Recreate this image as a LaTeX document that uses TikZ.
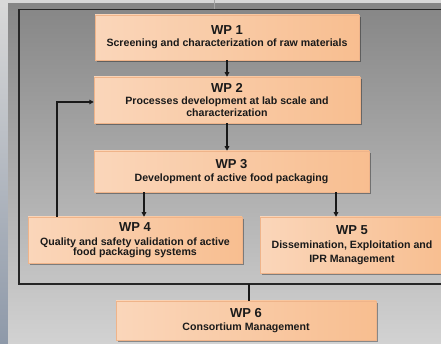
\documentclass[tikz,border=0pt]{standalone}
\usepackage{fontspec}
\setmainfont{Liberation Sans}
\usetikzlibrary{arrows.meta,shadows}

\definecolor{bgtop}{HTML}{868686}
\definecolor{bgmid}{HTML}{A4A4A4}
\definecolor{bgbot}{HTML}{D2D2D2}
\definecolor{stripL}{HTML}{D8D8D8}
\definecolor{stripB}{HTML}{8E99A9}
\definecolor{peachL}{HTML}{FAD6BA}
\definecolor{peachM}{HTML}{FCE2CE}
\definecolor{peachR}{HTML}{F8BE90}
\definecolor{peachEdge}{HTML}{EFB48A}
\definecolor{ink}{HTML}{1A1A1A}

\newcommand{\wptitle}{\fontsize{13}{15}\selectfont\bfseries}
\newcommand{\wpsub}{\fontsize{10.6}{12}\selectfont\bfseries}

\tikzset{
  wpbox/.style={rectangle, draw=peachEdge, line width=0.5pt,
    left color=peachL, middle color=peachM, right color=peachR,
    drop shadow={shadow xshift=1.6pt, shadow yshift=-1.6pt, fill=black, opacity=0.35},
    align=center, inner sep=0pt, text=ink, font=\wpsub},
  flow/.style={line width=1.1pt, draw=black!90, -{Triangle[length=4.5pt,width=4.5pt]}},
  plain/.style={line width=1.1pt, draw=black!90},
  frameline/.style={line width=1.8pt, draw=black!85},
}

\begin{document}
\begin{tikzpicture}[x=1pt,y=1pt]
  \useasboundingbox (0,0) rectangle (441,344);
  \clip (0,0) rectangle (441,344);

  % backdrop
  \fill[stripL] (0,0) rectangle (441,344);
  \fill[top color=stripL, bottom color=stripB] (0,0) rectangle (8,340);
  \fill[top color=bgtop, middle color=bgmid, bottom color=bgbot] (8,0) rectangle (441,340);

  % enclosing frame around WP 1 to WP 5
  \draw[frameline] (19,60) rectangle (470,334.5);
  \coordinate (ftop) at (214,334.5);
  \coordinate (fbot) at (249,60);
  \coordinate (above) at (214,344);
  \draw[line width=1pt, draw=black!35] (above) -- (ftop);

  % work packages
  \node[wpbox, minimum width=264pt, minimum height=45pt] (wp1) at (227,306.5)
    {{\wptitle WP 1}\\[0pt] Screening and characterization of raw materials};
  \node[wpbox, minimum width=266pt, minimum height=46pt] (wp2) at (227,244)
    {{\wptitle WP 2}\\[0pt] Processes development at lab scale and\\ characterization};
  \node[wpbox, minimum width=275pt, minimum height=41pt] (wp3) at (231.5,172.5)
    {{\wptitle WP 3}\\[1pt] Development of active food packaging};
  \node[wpbox, minimum width=214pt, minimum height=46pt] (wp4) at (135,104)
    {{\wptitle WP 4}\\[2pt] Quality and safety validation of active\\[-2pt] food packaging systems};
  \node[wpbox, minimum width=184pt, minimum height=56pt] (wp5) at (352,99)
    {{\wptitle WP 5}\\[2pt] Dissemination, Exploitation and\\[2pt] IPR Management};
  \node[wpbox, minimum width=260pt, minimum height=39pt] (wp6) at (246,23.5)
    {{\wptitle WP 6}\\[1pt] Consortium Management};

  % connectors
  \coordinate (to4) at (144,0);
  \coordinate (to5) at (336,0);
  \coordinate (back) at (57,242);

  \draw[flow] (wp1.south) -- (wp2.north);
  \draw[flow] (wp2.south) -- (wp2.south |- wp3.north);
  \draw[flow] (wp3.south -| to4) -- (wp4.north -| to4);
  \draw[flow] (wp3.south -| to5) -- (wp5.north -| to5);
  \draw[flow] (wp4.north -| back) |- (wp2.west |- back);
  \draw[plain] (fbot) -- (fbot |- wp6.north);
\end{tikzpicture}
\end{document}
